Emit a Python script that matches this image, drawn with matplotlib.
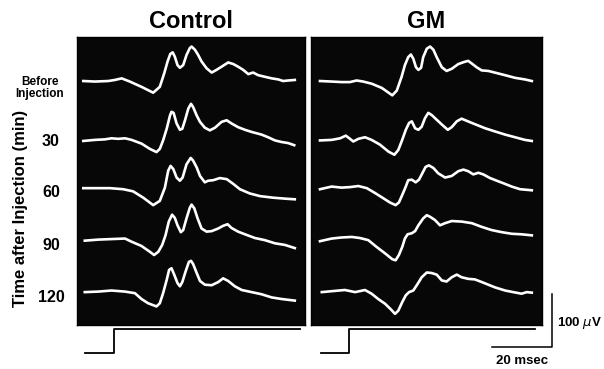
import matplotlib
matplotlib.use("Agg")
import matplotlib.pyplot as plt

plt.rcParams['font.family'] = ['Liberation Sans', 'DejaVu Sans']

# evoked potentials, time in msec from stimulus onset, amplitude in microvolts
ctrl_before_t = [-10.2, -6.3, -1.9, 0.3, 2.6, 5.3, 9.2, 13.1, 15.3, 16.8, 17.9, 18.8, 19.6, 20.3, 21.2, 22.0, 23.1, 24.2, 25.3, 25.9,
                 27.0, 28.1, 29.2, 30.9, 32.6, 34.2, 35.9, 38.1, 39.8, 41.4, 43.1, 44.8, 46.4, 48.1, 50.3, 52.6, 54.8, 56.4, 58.1, 60.3]
ctrl_before_uv = [0, -1, 0, 2, 5, -1, -11, -22, -11, 15, 37, 51, 54, 46, 30, 25, 30, 49, 62, 65,
                  59, 49, 37, 24, 16, 21, 27, 35, 32, 27, 21, 13, 16, 11, 8, 5, 3, 0, 1, 2]

ctrl_30_t = [-10.2, -6.3, -3.0, -0.8, 1.4, 3.7, 5.9, 9.2, 12.0, 14.2, 15.3, 16.4, 17.6, 18.7, 19.2, 19.9, 20.9, 22.0, 22.8, 23.7,
             24.8, 25.7, 26.4, 27.6, 28.7, 30.3, 32.0, 33.7, 35.9, 37.6, 39.2, 41.4, 43.7, 45.9, 49.2, 51.4, 53.7, 55.9, 58.1, 60.1]
ctrl_30_uv = [-1, 1, 2, 4, 3, 4, 1, -6, -16, -22, -16, 0, 22, 47, 54, 52, 32, 20, 22, 38,
              60, 69, 63, 47, 35, 24, 19, 24, 35, 38, 32, 25, 20, 16, 11, 6, 0, -3, -5, -9]

ctrl_60_t = [-10.2, -5.8, -1.3, 3.1, 6.4, 9.8, 13.1, 15.3, 17.0, 18.1, 18.9, 19.8, 20.9, 22.0, 22.9, 24.2,
             25.6, 26.4, 27.6, 28.7, 30.3, 31.4, 33.1, 35.3, 37.6, 39.8, 42.0, 45.3, 48.7, 53.1, 57.6, 60.3]
ctrl_60_uv = [0, 0, 0, -2, -6, -18, -32, -24, 1, 33, 42, 36, 20, 14, 20, 45,
              57, 52, 39, 23, 11, 14, 15, 19, 17, 8, -2, -10, -15, -18, -20, -21]

ctrl_90_t = [-9.7, -5.2, -0.8, 3.7, 5.9, 9.2, 12.0, 13.4, 14.8, 16.1, 17.2, 18.3, 19.4, 20.3, 21.2, 22.3, 23.1, 24.2,
             25.3, 25.9, 26.8, 27.9, 29.2, 30.9, 32.6, 34.8, 36.4, 37.9, 39.2, 41.4, 43.7, 47.0, 50.3, 53.7, 57.0, 60.3]
ctrl_90_uv = [-1, 1, 2, 3, -3, -11, -22, -28, -22, -9, 9, 35, 48, 42, 28, 15, 19, 41,
              61, 67, 60, 41, 22, 16, 17, 22, 27, 30, 23, 16, 11, 4, 0, -6, -9, -15]

ctrl_120_t = [-9.7, -5.2, -0.8, 3.7, 7.0, 9.2, 11.4, 14.2, 15.3, 16.4, 17.6, 18.4, 19.2, 20.1, 21.2, 22.0, 22.8, 23.9,
              25.0, 25.7, 26.4, 27.6, 28.7, 30.3, 32.6, 34.8, 36.4, 38.1, 40.3, 42.6, 45.9, 49.2, 52.6, 55.9, 60.3]
ctrl_120_uv = [0, 1, 3, 1, -2, -13, -21, -27, -21, -2, 23, 42, 45, 33, 17, 11, 19, 39,
               57, 59, 53, 36, 21, 14, 13, 19, 26, 21, 11, 4, 0, -4, -10, -13, -16]

gm_before_t = [-9.7, -5.8, -2.5, 0.3, 2.5, 4.7, 7.5, 10.9, 14.4, 15.9, 17.5, 18.6, 19.7, 20.6, 21.4, 22.3, 23.1, 24.0, 24.7,
               25.9, 27.0, 28.1, 29.2, 30.9, 32.5, 34.2, 36.4, 38.4, 39.7, 40.9, 42.5, 44.2, 46.4, 49.2, 52.0, 55.3, 58.6, 60.9]
gm_before_uv = [0, -1, -2, -2, 1, -1, -5, -13, -27, -18, 8, 30, 45, 50, 42, 26, 21, 25, 45,
                61, 65, 59, 45, 26, 19, 23, 32, 36, 38, 33, 26, 20, 19, 15, 11, 6, 3, 0]

gm_30_t = [-9.7, -5.8, -3.0, -1.1, 0.3, 1.4, 3.1, 5.3, 7.5, 10.3, 13.1, 15.1, 16.4, 17.7, 18.9, 20.0, 20.9, 22.0, 23.1,
           24.2, 25.3, 26.4, 27.5, 29.2, 30.9, 32.9, 34.2, 35.9, 37.5, 39.2, 40.9, 43.1, 45.3, 48.6, 52.0, 55.3, 58.6, 60.9]
gm_30_uv = [0, 1, 4, 9, 3, -2, 3, 6, 1, -8, -21, -27, -18, 1, 20, 33, 36, 23, 20,
            26, 42, 52, 48, 39, 30, 20, 25, 36, 41, 37, 33, 28, 23, 17, 11, 6, 1, -1]

gm_60_t = [-9.7, -5.8, -2.5, 0.3, 3.1, 5.9, 8.6, 11.4, 13.6, 15.5, 16.6, 17.7, 18.9, 19.7, 20.9, 22.2, 23.3, 24.4,
           25.5, 26.6, 28.1, 29.7, 32.0, 34.2, 36.4, 38.1, 39.7, 41.4, 43.1, 44.7, 47.0, 49.7, 52.0, 54.2, 57.0, 60.9]
gm_60_uv = [-2, 3, 1, 2, 4, 0, -9, -19, -27, -32, -27, -13, 3, 15, 16, 11, 16, 28,
            40, 43, 38, 28, 20, 23, 32, 35, 32, 26, 29, 26, 19, 13, 8, 3, -2, -4]

gm_90_t = [-9.7, -5.8, -2.5, 0.9, 3.6, 6.4, 9.2, 12.0, 14.4, 15.5, 16.6, 17.7, 18.6, 19.5, 20.9, 22.0,
           23.1, 24.7, 25.9, 27.0, 28.6, 30.3, 32.0, 34.2, 37.5, 40.9, 44.2, 47.5, 50.9, 54.2, 57.5, 60.9]
gm_90_uv = [-2, 3, 5, 6, 4, 0, -13, -25, -36, -38, -28, -13, 3, 11, 13, 17,
            28, 41, 47, 44, 38, 28, 32, 36, 35, 32, 25, 19, 15, 12, 11, 9]

gm_120_t = [-9.1, -5.3, -1.4, 2.0, 5.3, 7.5, 9.7, 12.0, 14.0, 15.3, 16.4, 17.7, 18.9, 20.0, 21.4, 22.9, 24.2, 25.9,
            27.5, 29.2, 30.9, 32.5, 34.2, 35.9, 37.5, 39.7, 41.9, 44.2, 46.4, 48.6, 52.0, 54.7, 57.5, 59.2, 60.9]
gm_120_uv = [0, 2, 4, 0, 4, -3, -13, -22, -33, -41, -35, -19, -6, 0, 3, 16, 28, 37,
             36, 33, 22, 20, 28, 33, 28, 25, 24, 19, 14, 9, 3, 0, -3, 0, -1]

row_labels = ['Before\nInjection', '30', '60', '90', '120']

# stimulus timing trace under each panel
stim_t = [-9.5, 0, 0, 62]
stim_level = [0, 0, 1, 1]

scale_ms = 20
scale_uv = 100

# vertical position of each trace inside a panel (microvolts)
row_offsets = [460, 348, 258, 160, 62]

W, H = 604, 369
fig = plt.figure(figsize=(W / 100, H / 100), dpi=100)


def px_box(x0, y0, x1, y1):
    return [x0 / W, 1 - y1 / H, (x1 - x0) / W, (y1 - y0) / H]


panels = [
    ('Control', px_box(77, 37, 305, 325), (-12.3, 63.7),
     [(ctrl_before_t, ctrl_before_uv), (ctrl_30_t, ctrl_30_uv), (ctrl_60_t, ctrl_60_uv),
      (ctrl_90_t, ctrl_90_uv), (ctrl_120_t, ctrl_120_uv)]),
    ('GM', px_box(311, 37, 542, 325), (-12.7, 64.3),
     [(gm_before_t, gm_before_uv), (gm_30_t, gm_30_uv), (gm_60_t, gm_60_uv),
      (gm_90_t, gm_90_uv), (gm_120_t, gm_120_uv)]),
]

axes = []
for title, box, xlim, traces in panels:
    ax = fig.add_axes(box)
    ax.set_facecolor('#070707')
    for (t, uv), off in zip(traces, row_offsets):
        ax.plot(t, [v + off for v in uv], color='white', lw=1.9, solid_joinstyle='round')
    ax.set_xlim(*xlim)
    ax.set_ylim(0, 543)
    ax.set_xticks([])
    ax.set_yticks([])
    for s in ax.spines.values():
        s.set_color('black')
        s.set_linewidth(1.0)
    ax.text(0.5, 1 + 16 / 288, title, transform=ax.transAxes, ha='center', va='center',
            fontsize=17, fontweight='bold')
    axes.append(ax)

    # stimulus step below the panel
    sax = fig.add_axes([box[0], 1 - 356 / H, box[2], 30 / H])
    sax.plot(stim_t, stim_level, color='black', lw=1.3)
    sax.set_xlim(*xlim)
    sax.set_ylim(-0.15, 1.15)
    sax.axis('off')

# row labels on the left
label_y = [88, 141, 193, 245, 298]
for lab, y in zip(row_labels, label_y):
    if '\n' in lab:
        fig.text(40 / W, 1 - y / H, lab, ha='center', va='center', fontsize=8.5,
                 fontweight='bold', linespacing=1.1)
    else:
        fig.text(51 / W, 1 - y / H, lab, ha='center', va='center', fontsize=11.5, fontweight='bold')

fig.text(21 / W, 1 - 208 / H, 'Time after Injection (min)', rotation=90, ha='center', va='center',
         fontsize=12, fontweight='bold')

# scale bars next to the GM panel
ax = axes[1]
bar_t = 67.7
bar_v = -41.5
ax.plot([bar_t - scale_ms, bar_t, bar_t], [bar_v, bar_v, bar_v + scale_uv], color='black', lw=1.1,
        clip_on=False)
ax.text(bar_t + 1.5, bar_v + scale_uv * 0.45, '100 $\\mu$V', ha='left', va='center', fontsize=9.5,
        fontweight='bold', clip_on=False)
ax.text(bar_t - scale_ms / 2, bar_v - 26, '20 msec', ha='center', va='center', fontsize=9.5,
        fontweight='bold', clip_on=False)

fig.savefig('out.png', dpi=100)
